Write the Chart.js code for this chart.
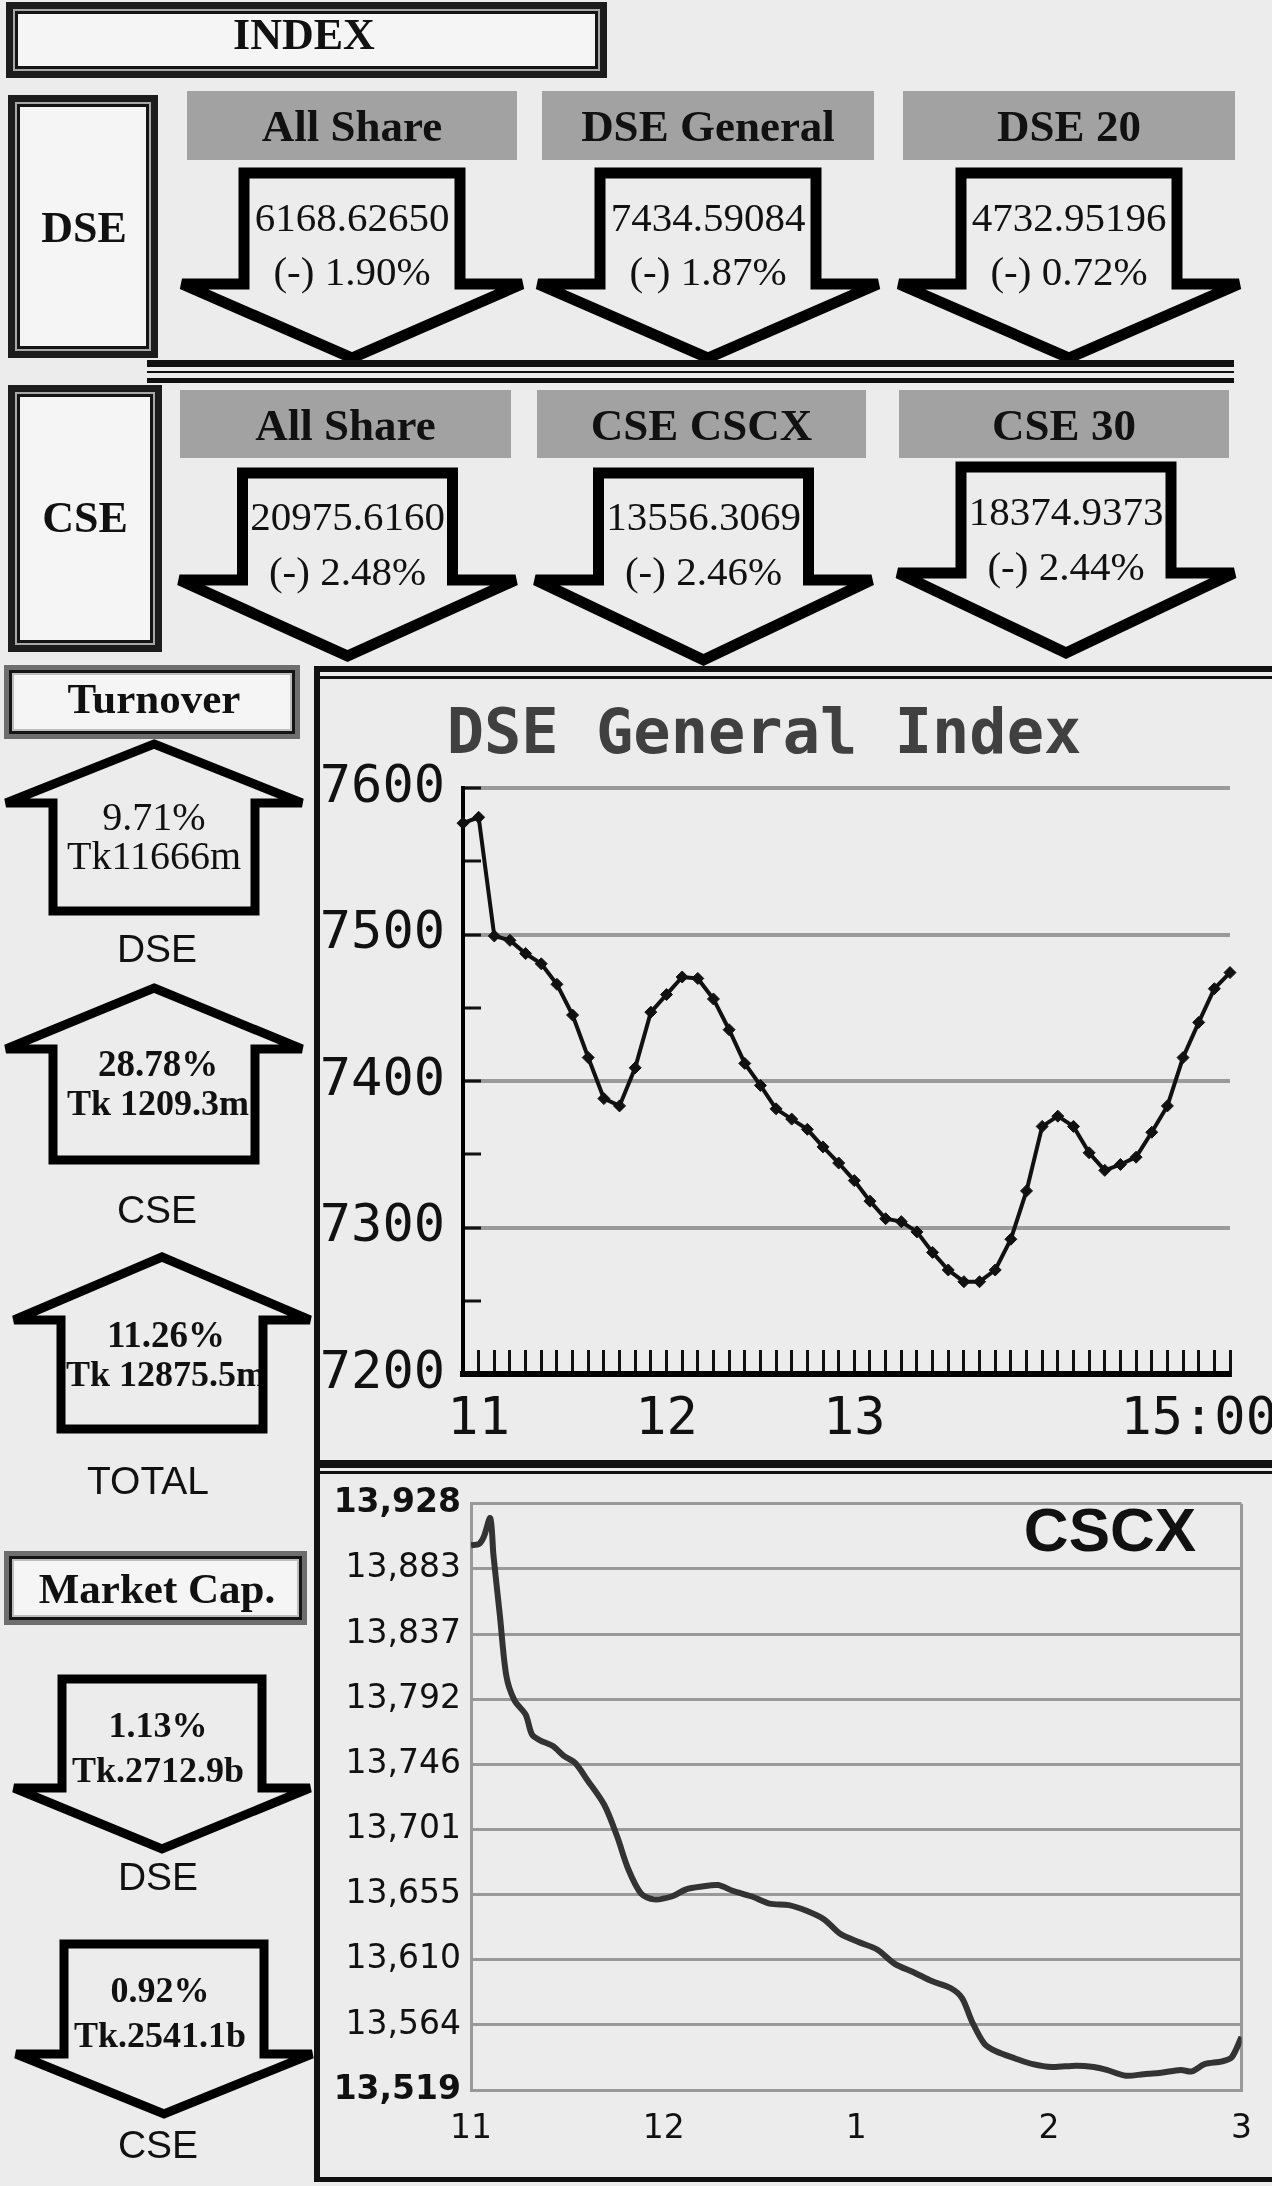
<!DOCTYPE html>
<html>
<head>
<meta charset="utf-8">
<script src="https://cdn.jsdelivr.net/npm/chart.js@4.4.0/dist/chart.umd.min.js"></script>
<style>
  html, body { margin: 0; padding: 0; }
  body { width: 1272px; height: 2186px; background: #ececec; position: relative; overflow: hidden; }
  #art { position: absolute; left: 0; top: 0; z-index: 2; pointer-events: none; }
  .clip { position: absolute; overflow: hidden; z-index: 1; }
  .clip canvas { position: absolute; }
</style>
</head>
<body>
<div class="clip" style="left:320px;top:679px;width:952px;height:781px;">
  <canvas id="dseChart" width="1080" height="781" style="left:-20px;top:0;width:1080px;height:781px;"></canvas>
</div>
<div class="clip" style="left:322px;top:1474px;width:950px;height:702px;">
  <canvas id="cscxChart" width="950" height="702" style="left:0;top:0;width:950px;height:702px;"></canvas>
</div>
<svg id="art" width="1272" height="2186" xmlns="http://www.w3.org/2000/svg"></svg>
<script>
// ---- index panel
const dseIndexNames = ['All Share', 'DSE General', 'DSE 20'];
const dseIndexValues = ['6168.62650', '7434.59084', '4732.95196'];
const dseIndexChanges = ['(-) 1.90%', '(-) 1.87%', '(-) 0.72%'];
const cseIndexNames = ['All Share', 'CSE CSCX', 'CSE 30'];
const cseIndexValues = ['20975.6160', '13556.3069', '18374.9373'];
const cseIndexChanges = ['(-) 2.48%', '(-) 2.46%', '(-) 2.44%'];

// ---- turnover / market cap
const turnoverNames = ['DSE', 'CSE', 'TOTAL'];
const turnoverChanges = ['9.71%', '28.78%', '11.26%'];
const turnoverValues = ['Tk11666m', 'Tk 1209.3m', 'Tk 12875.5m'];
const mcapNames = ['DSE', 'CSE'];
const mcapChanges = ['1.13%', '0.92%'];
const mcapValues = ['Tk.2712.9b', 'Tk.2541.1b'];

// ---- DSE General Index (5 minute points)
const dseTimes = ['10:55',
  '11:00','11:05','11:10','11:15','11:20','11:25','11:30','11:35','11:40','11:45','11:50','11:55',
  '12:00','12:05','12:10','12:15','12:20','12:25','12:30','12:35','12:40','12:45','12:50','12:55',
  '13:00','13:05','13:10','13:15','13:20','13:25','13:30','13:35','13:40','13:45','13:50','13:55',
  '14:00','14:05','14:10','14:15','14:20','14:25','14:30','14:35','14:40','14:45','14:50','14:55',
  '15:00'];
const dseValues = [7576, 7580, 7499, 7496, 7487, 7480, 7466, 7445, 7416, 7388,
  7383, 7409, 7447, 7459, 7471, 7470, 7456, 7435, 7412, 7397,
  7381, 7374, 7367, 7355, 7344, 7332, 7318, 7306, 7304, 7297,
  7283, 7271, 7263, 7263, 7271, 7292, 7325, 7369, 7376, 7369,
  7351, 7339, 7343, 7348, 7365, 7383, 7416, 7440, 7463, 7474];
// trailing spaces push the last label left, as in the original
const dseHourLabels = { '11:00': '11', '12:00': '12', '13:00': '13', '15:00': '15:00  ' };

// ---- CSCX (minutes after 11:00)
const cscxMinutes = [0, 2.5, 4, 6, 7, 9, 11, 13.5, 17, 19,
  21.5, 25.5, 29, 32.5, 36, 41.5, 45.5, 49, 53, 57,
  62.5, 67, 72, 77, 81.5, 87.5, 93, 99, 104.5, 110,
  115, 121, 126.5, 132, 138, 143.5, 149.5, 153, 156, 160,
  163.5, 169.5, 175, 181, 188.5, 194, 198, 204, 209.5, 215,
  221, 224.5, 228.5, 234, 237, 240];
const cscxValues = [13899, 13900, 13905, 13918, 13892, 13850, 13808, 13791, 13781, 13767,
  13763, 13759, 13752, 13747, 13736, 13718, 13696, 13673, 13656, 13652,
  13654, 13659, 13661, 13662, 13658, 13654, 13649, 13648, 13644, 13638,
  13628, 13622, 13617, 13607, 13601, 13595, 13590, 13583, 13567, 13551,
  13546, 13541, 13537, 13535, 13536, 13535, 13533, 13529, 13530, 13531,
  13533, 13532, 13537, 13539, 13542, 13556];
const cscxTickValues = [13519, 13564.4, 13609.9, 13655.3, 13700.8, 13746.2, 13791.7, 13837.1, 13882.6, 13928];
const cscxTickLabels = ['13,519', '13,564', '13,610', '13,655', '13,701', '13,746', '13,792', '13,837', '13,883', '13,928'];
const cscxHourTicks = [0, 60, 120, 180, 240];
const cscxHourLabels = ['11', '12', '1', '2', '3'];

const SERIF = '"Liberation Serif", "Times New Roman", serif';
const SANS = '"Liberation Sans", Arial, sans-serif';
const MONO = '"DejaVu Sans Mono", monospace';

// ---------- svg drawing of the panels
const svg = document.getElementById('art');
const NS = 'http://www.w3.org/2000/svg';

function add(tag, attrs, text) {
  const el = document.createElementNS(NS, tag);
  for (const k in attrs) el.setAttribute(k, attrs[k]);
  if (text !== undefined) el.textContent = text;
  svg.appendChild(el);
  return el;
}
function rect(x, y, w, h, fill) {
  return add('rect', { x: x, y: y, width: w, height: h, fill: fill });
}
function txt(x, y, s, size, weight, family, fill) {
  return add('text', { x: x, y: y, 'text-anchor': 'middle', 'font-size': size,
    'font-weight': weight || 'normal', 'font-family': family || SERIF, fill: fill || '#111' }, s);
}
// boxes with a double border
function frameBox(x, y, w, h, bands) {
  let inset = 0;
  bands.forEach(function (b) {
    rect(x + inset, y + inset, w - 2 * inset, h - 2 * inset, b[1]);
    inset += b[0];
  });
  rect(x + inset, y + inset, w - 2 * inset, h - 2 * inset, '#f5f5f5');
}
const darkBands = [[7, '#1c1c1c'], [2, '#a8a8a8'], [3, '#151515']];
const grayBands = [[5, '#6e6e6e'], [3, '#151515'], [2, '#bdbdbd']];

function poly(pts, w) {
  return add('polygon', { points: pts.map(p => p.join(',')).join(' '), fill: 'none',
    stroke: '#000', 'stroke-width': w, 'stroke-linejoin': 'miter' });
}
function downArrow(cx, top, sh, wh, wy, tip, w) {
  poly([[cx - sh, top], [cx + sh, top], [cx + sh, wy], [cx + wh, wy], [cx, tip], [cx - wh, wy], [cx - sh, wy]], w || 10);
}
function upArrow(cx, tip, sh, wh, wy, bottom) {
  poly([[cx, tip], [cx + wh, wy], [cx + sh, wy], [cx + sh, bottom], [cx - sh, bottom], [cx - sh, wy], [cx - wh, wy]], 9);
}

// INDEX + exchange boxes
frameBox(6, 2, 601, 76, darkBands);
txt(304, 49, 'INDEX', 44, 'bold');
frameBox(8, 95, 150, 263, darkBands);
txt(84, 242, 'DSE', 44, 'bold');
frameBox(8, 385, 154, 267, darkBands);
txt(85, 532, 'CSE', 44, 'bold');

const dseHeads = [[187, 517], [542, 874], [903, 1235]];
const cseHeads = [[180, 511], [537, 866], [899, 1229]];
dseHeads.forEach(function (h, i) {
  const cx = (h[0] + h[1]) / 2;
  rect(h[0], 91, h[1] - h[0], 69, '#a2a2a2');
  txt(cx, 141, dseIndexNames[i], 45, 'bold');
  txt(cx, 231, dseIndexValues[i], 41);
  txt(cx, 285, dseIndexChanges[i], 41);
  downArrow(cx, 173, 108, 170, 284, 358, 11);
});
cseHeads.forEach(function (h, i) {
  const cx = (h[0] + h[1]) / 2 + 2;
  const top = [473, 473, 467][i];
  const wy = [580, 580, 573][i];
  const tip = [656, 660, 653][i];
  const ty = [530, 530, 525][i];
  rect(h[0], 390, h[1] - h[0], 68, '#a2a2a2');
  txt(cx - 2, 440, cseIndexNames[i], 45, 'bold');
  txt(cx, ty, cseIndexValues[i], 41);
  txt(cx, ty + 55, cseIndexChanges[i], 41);
  downArrow(cx, top, 105, 168, wy, tip, 11);
});

// separator between DSE and CSE rows
rect(147, 360, 1087, 7, '#111');
rect(147, 371, 1087, 2, '#111');
rect(147, 378, 1087, 5, '#111');

// turnover
frameBox(4, 665, 296, 74, grayBands);
txt(154, 713, 'Turnover', 43, 'bold');
const upSpecs = [[154, 744, 803, 911], [154, 988, 1049, 1160], [162, 1257, 1320, 1429]];
const upLabelY = [962, 1223, 1494];
upSpecs.forEach(function (a, i) {
  const bold = i > 0 ? 'bold' : 'normal';
  const size = i > 0 ? 37 : 40;
  txt(a[0] + (i > 0 ? 4 : 0), a[2] + 27, turnoverChanges[i], size, bold);
  txt(a[0] + (i > 0 ? 4 : 0), a[2] + 66, turnoverValues[i], i > 0 ? 36 : 40, bold);
  upArrow(a[0], a[1], 101, 148, a[2], a[3]);
  txt(i === 2 ? 148 : 157, upLabelY[i], turnoverNames[i], 39, 'normal', SANS);
});

// market cap
frameBox(4, 1551, 303, 74, grayBands);
txt(157, 1603, 'Market Cap.', 43, 'bold');
const downSpecs = [[162, 1679, 1788, 1849], [164, 1944, 2054, 2114]];
const downLabelY = [1890, 2158];
downSpecs.forEach(function (a, i) {
  txt(a[0] - 4, a[1] + 58, mcapChanges[i], 36, 'bold');
  txt(a[0] - 4, a[1] + 103, mcapValues[i], 36, 'bold');
  downArrow(a[0], a[1], 100, 148, a[2], a[3], 9);
  txt(158, downLabelY[i], mcapNames[i], 39, 'normal', SANS);
});

// chart frames
rect(314, 666, 958, 6, '#111');
rect(314, 676, 958, 3, '#111');
rect(314, 666, 6, 1516, '#111');
rect(314, 1460, 958, 8, '#111');
rect(314, 1471, 958, 3, '#111');
rect(314, 2177, 958, 5, '#111');

txt(764, 753, 'DSE General Index', 62, 'bold', MONO, '#404040');
txt(1110, 1551, 'CSCX', 62, 'bold', SANS, '#111');

// ---------- charts
const clear = 'rgba(0,0,0,0)';

new Chart(document.getElementById('dseChart'), {
  type: 'line',
  data: {
    labels: dseTimes,
    datasets: [{
      data: dseValues,
      borderColor: '#111',
      borderWidth: 4,
      tension: 0,
      pointStyle: 'rectRot',
      pointRadius: 6,
      pointBackgroundColor: '#111',
      pointBorderColor: '#111',
      pointBorderWidth: 1
    }]
  },
  options: {
    responsive: false,
    animation: false,
    devicePixelRatio: 1,
    layout: { padding: { top: 109, right: 150, bottom: 0, left: 0 } },
    plugins: { legend: { display: false }, tooltip: { enabled: false } },
    scales: {
      x: {
        grid: { drawOnChartArea: false, tickLength: -24, tickColor: '#111', tickWidth: 3 },
        border: { color: '#000', width: 6 },
        ticks: {
          autoSkip: false, maxRotation: 0, padding: 39, color: '#111',
          font: { family: 'DejaVu Sans Mono', size: 52 },
          callback: (v, i) => dseHourLabels[dseTimes[i]] || ''
        },
        afterFit: (s) => { s.height = 86; }
      },
      y: {
        min: 7200,
        max: 7600,
        grid: {
          color: (c) => (c.tick && c.tick.value % 100 === 0) ? '#9a9a9a' : clear,
          lineWidth: 4, tickLength: -18, tickColor: '#111', tickWidth: 3
        },
        border: { color: '#000', width: 4 },
        ticks: {
          stepSize: 50, padding: 36, color: '#111',
          font: { family: 'DejaVu Sans Mono', size: 52 },
          callback: (v) => v % 100 === 0 ? String(v) : ''
        },
        afterFit: (s) => { s.width = 163; }
      }
    }
  }
});

new Chart(document.getElementById('cscxChart'), {
  type: 'line',
  data: {
    datasets: [{
      data: cscxMinutes.map((m, i) => ({ x: m, y: cscxValues[i] })),
      borderColor: '#333',
      borderWidth: 6,
      pointRadius: 0,
      tension: 0.3
    }]
  },
  options: {
    responsive: false,
    animation: false,
    devicePixelRatio: 1,
    layout: { padding: { top: 27, right: 29, bottom: 0, left: 0 } },
    plugins: { legend: { display: false }, tooltip: { enabled: false } },
    scales: {
      x: {
        type: 'linear',
        min: 0,
        max: 240,
        afterBuildTicks: (a) => { a.ticks = cscxHourTicks.map(v => ({ value: v })); },
        grid: { drawTicks: false, lineWidth: 3, color: (c) => (c.tick && c.tick.value === 240) ? '#999' : clear },
        border: { color: '#999', width: 3 },
        ticks: {
          padding: 20, color: '#111',
          font: { family: 'DejaVu Sans', size: 33 },
          callback: (v, i) => cscxHourLabels[i]
        },
        afterFit: (s) => { s.height = 86; }
      },
      y: {
        min: 13519,
        max: 13928,
        afterBuildTicks: (a) => { a.ticks = cscxTickValues.map(v => ({ value: v })); },
        grid: { drawTicks: false, color: '#999', lineWidth: 3 },
        border: { color: '#999', width: 3 },
        ticks: {
          padding: 10, color: '#111',
          font: (c) => ({ family: 'DejaVu Sans', size: 33,
            weight: (c.index === 0 || c.index === cscxTickValues.length - 1) ? 'bold' : 'normal' }),
          callback: (v, i) => cscxTickLabels[i]
        },
        afterFit: (s) => { s.width = 149; }
      }
    }
  }
});
</script>
</body>
</html>
